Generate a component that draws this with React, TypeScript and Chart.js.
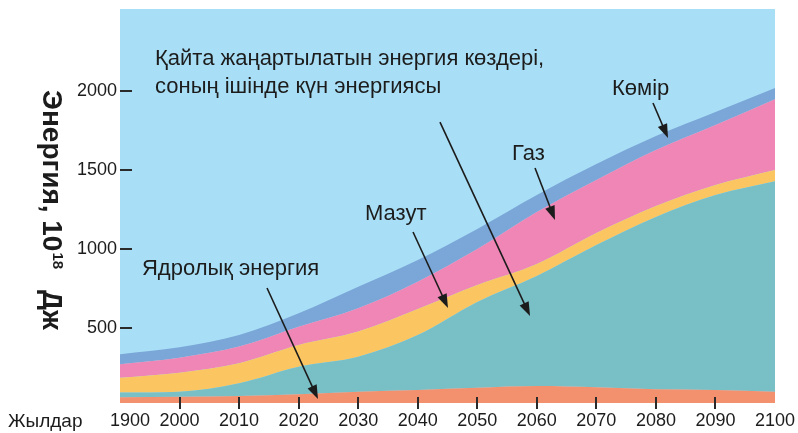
import React, { useEffect, useRef } from "react";
import { Chart, registerables } from "chart.js";

Chart.register(...registerables);

// ---- data ----
const YEARS = ["1900", "2000", "2010", "2020", "2030", "2040", "2050", "2060", "2070", "2080", "2090", "2100"];
const NUCLEAR = [61, 65, 70, 80, 97, 108, 122, 133, 125, 112, 108, 97];
const RENEWABLE = [30, 32, 80, 175, 221, 347, 543, 696, 900, 1091, 1234, 1333];
const MAZUT = [94, 120, 127, 137, 159, 165, 107, 76, 76, 69, 63, 70];
const GAS = [85, 95, 105, 116, 148, 173, 228, 329, 336, 355, 380, 449];
const COAL = [64, 66, 74, 85, 136, 137, 127, 108, 101, 88, 82, 70];
const Y_TICKS = [500, 1000, 1500, 2000];
const Y_MIN = 25;
const Y_MAX = 2520;

const SERIES_NAMES = [
  "Ядролық энергия",
  "Қайта жаңартылатын энергия көздері",
  "Мазут",
  "Газ",
  "Көмір",
];
const COLORS = ["#f3916f", "#78bfc6", "#fbc662", "#ef86b5", "#7aa7d8"];
const BG_COLOR = "#a9dff6";

// annotations in data coordinates (x = category index, y = value)
const LABELS = [
  { lines: ["Қайта жаңартылатын энергия көздері,", "соның ішінде күн энергиясы"], x: 0.588, y: 2165, dy: 1988, from: [5.374, 1804], to: [6.886, 576] },
  { lines: ["Ядролық энергия"], x: 0.369, y: 836, from: [2.469, 753], to: [3.325, 50] },
  { lines: ["Мазут"], x: 4.115, y: 1184, from: [4.921, 1108], to: [5.508, 627] },
  { lines: ["Газ"], x: 6.583, y: 1564, from: [6.97, 1513], to: [7.305, 1184] },
  { lines: ["Көмір"], x: 8.263, y: 1975, from: [8.951, 1925], to: [9.203, 1703] },
];

const FONT = "'Liberation Sans', Arial, Helvetica, sans-serif";
const TEXT = "#1c1c1c";

function arrow(ctx: CanvasRenderingContext2D, x1: number, y1: number, x2: number, y2: number) {
  const ang = Math.atan2(y2 - y1, x2 - x1);
  const len = 14;
  const hw = 5;
  const bx = x2 - Math.cos(ang) * len;
  const by = y2 - Math.sin(ang) * len;
  ctx.beginPath();
  ctx.moveTo(x1, y1);
  ctx.lineTo(bx + Math.cos(ang) * 2, by + Math.sin(ang) * 2);
  ctx.strokeStyle = TEXT;
  ctx.lineWidth = 1.6;
  ctx.stroke();
  ctx.beginPath();
  ctx.moveTo(x2, y2);
  ctx.lineTo(bx - Math.sin(ang) * hw, by + Math.cos(ang) * hw);
  ctx.lineTo(bx + Math.sin(ang) * hw, by - Math.cos(ang) * hw);
  ctx.closePath();
  ctx.fillStyle = TEXT;
  ctx.fill();
}

const overlay = {
  id: "overlay",
  beforeDatasetsDraw(chart: any) {
    const { ctx, chartArea } = chart;
    ctx.save();
    ctx.fillStyle = BG_COLOR;
    ctx.fillRect(chartArea.left, chartArea.top, chartArea.right - chartArea.left, chartArea.bottom - chartArea.top);
    ctx.restore();
  },
  afterDatasetsDraw(chart: any) {
    const { ctx, chartArea } = chart;
    const xs = chart.scales.x;
    const ys = chart.scales.y;
    ctx.save();
    // tick marks
    ctx.strokeStyle = "#2a2a2a";
    ctx.lineWidth = 2;
    for (let i = 1; i < YEARS.length - 1; i++) {
      const px = Math.round(xs.getPixelForValue(i));
      ctx.beginPath();
      ctx.moveTo(px, chartArea.bottom - 6);
      ctx.lineTo(px, chartArea.bottom + 6);
      ctx.stroke();
    }
    for (const v of Y_TICKS) {
      const py = Math.round(ys.getPixelForValue(v));
      ctx.beginPath();
      ctx.moveTo(chartArea.left, py);
      ctx.lineTo(chartArea.left + 12, py);
      ctx.stroke();
    }
    // annotations
    ctx.fillStyle = TEXT;
    ctx.font = `22px ${FONT}`;
    ctx.textAlign = "left";
    ctx.textBaseline = "alphabetic";
    for (const a of LABELS) {
      const lx = xs.getPixelForValue(a.x);
      ctx.fillText(a.lines[0], lx, ys.getPixelForValue(a.y));
      if (a.lines[1]) ctx.fillText(a.lines[1], lx, ys.getPixelForValue((a as any).dy));
      arrow(
        ctx,
        xs.getPixelForValue(a.from[0]),
        ys.getPixelForValue(a.from[1]),
        xs.getPixelForValue(a.to[0]),
        ys.getPixelForValue(a.to[1])
      );
    }
    // x axis title
    ctx.font = `19px ${FONT}`;
    ctx.fillText("Жылдар", 8, 427);
    // y axis title (rotated, reading downward)
    ctx.translate(43, 90);
    ctx.rotate(Math.PI / 2);
    ctx.font = `bold 28px ${FONT}`;
    const main = "Энергия, 10";
    ctx.fillText(main, 0, 0);
    const w = ctx.measureText(main).width;
    ctx.font = `bold 15px ${FONT}`;
    ctx.fillText("18", w + 1, -10);
    ctx.font = `bold 28px ${FONT}`;
    ctx.fillText("Дж", 200, 0);
    ctx.restore();
  },
};

export default function App() {
  const ref = useRef<HTMLCanvasElement>(null);
  useEffect(() => {
    document.body.style.margin = "0";
    const canvas = ref.current!;
    const datasets = [NUCLEAR, RENEWABLE, MAZUT, GAS, COAL].map((d, i) => ({
      label: SERIES_NAMES[i],
      data: d,
      backgroundColor: COLORS[i],
      borderColor: COLORS[i],
      borderWidth: 0,
      pointRadius: 0,
      fill: i === 0 ? "origin" : "-1",
      tension: 0.3,
      cubicInterpolationMode: "monotone" as const,
    }));
    const chart = new Chart(canvas, {
      type: "line",
      data: { labels: YEARS, datasets },
      options: {
        animation: false,
        responsive: false,
        devicePixelRatio: 1,
        layout: { padding: { top: 9, right: 23, left: 0, bottom: 0 } },
        plugins: { legend: { display: false }, tooltip: { enabled: false } },
        scales: {
          x: {
            type: "category",
            offset: false,
            grid: { display: false, drawTicks: false },
            border: { display: false },
            ticks: {
              autoSkip: false,
              maxRotation: 0,
              minRotation: 0,
              padding: 7,
              color: TEXT,
              font: { family: FONT, size: 18 },
              callback: (_v: any, i: number) => (i === 0 ? "    " + YEARS[i] : YEARS[i]),
            },
            afterFit: (s: any) => {
              s.height = 30;
              s.paddingLeft = 0;
              s.paddingRight = 0;
            },
          },
          y: {
            stacked: true,
            min: Y_MIN,
            max: Y_MAX,
            grid: { display: false, drawTicks: false },
            border: { display: false },
            ticks: {
              padding: 3,
              color: TEXT,
              font: { family: FONT, size: 18 },
              callback: (v: any) => String(v),
            },
            afterBuildTicks: (s: any) => {
              s.ticks = Y_TICKS.map((v) => ({ value: v }));
            },
            afterFit: (s: any) => {
              s.width = 120;
              s.paddingTop = 0;
              s.paddingBottom = 0;
            },
          },
        },
      },
      plugins: [overlay],
    });
    return () => chart.destroy();
  }, []);
  return (
    <div style={{ width: 798, height: 433 }}>
      <canvas ref={ref} width={798} height={433} style={{ display: "block" }} />
    </div>
  );
}
